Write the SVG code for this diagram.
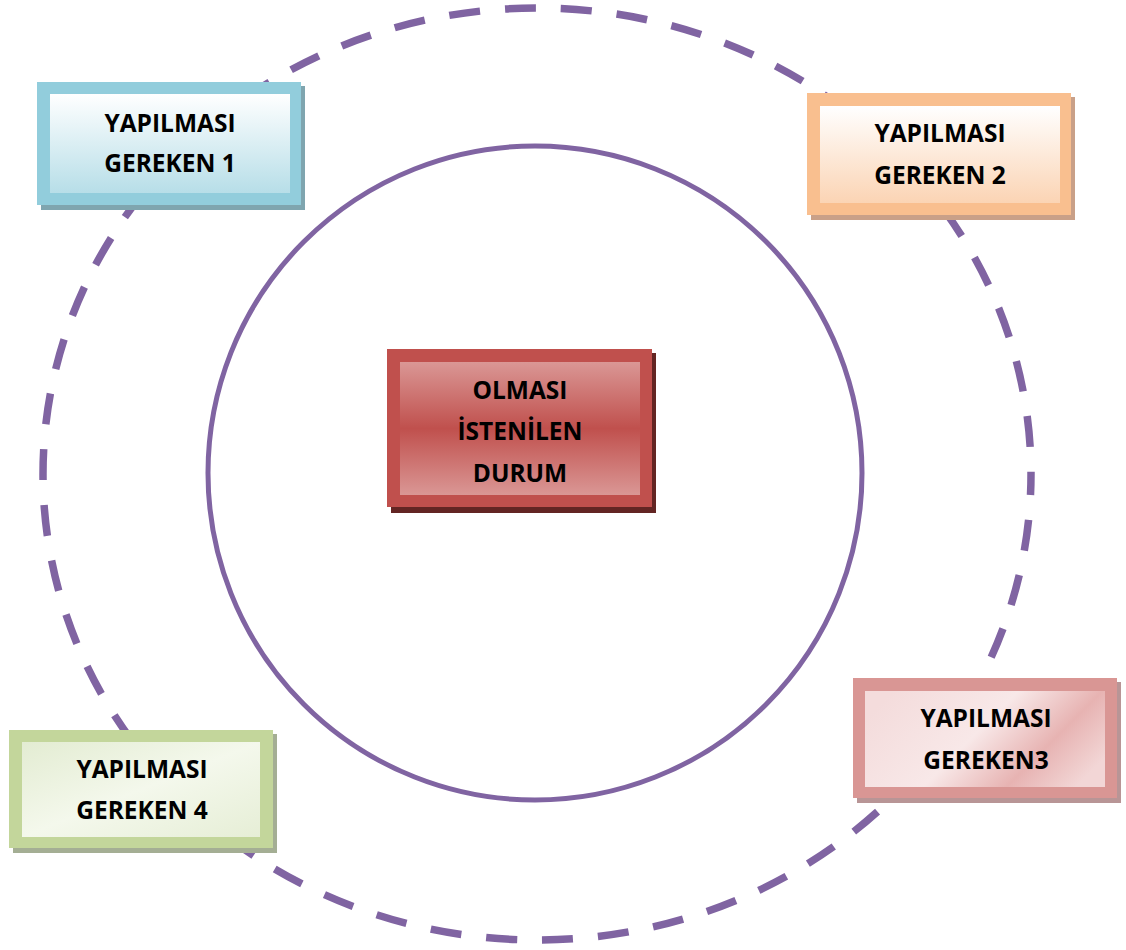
<svg xmlns="http://www.w3.org/2000/svg" width="1126" height="950" viewBox="0 0 1126 950">
<style>
.t{font-family:"Open Sans","Noto Sans","Liberation Sans",sans-serif;font-weight:bold;font-size:24.5px;fill:#000;text-anchor:middle}
.ring{fill:none;stroke:#8064A2}
</style>
<defs>
<linearGradient id="gBlue" x1="0" y1="0" x2="0" y2="1"><stop offset="0" stop-color="#FFFFFF"/><stop offset="1" stop-color="#B7DEE8"/></linearGradient>
<linearGradient id="gOrange" x1="0" y1="0" x2="0" y2="1"><stop offset="0" stop-color="#FFFFFF"/><stop offset="1" stop-color="#FBD4B4"/></linearGradient>
<linearGradient id="gRed" x1="0" y1="0" x2="0" y2="1"><stop offset="0" stop-color="#DA9795"/><stop offset="0.5" stop-color="#C0504D"/><stop offset="1" stop-color="#DA9795"/></linearGradient>
<linearGradient id="gPink" x1="0" y1="0.3" x2="1" y2="0.7"><stop offset="0" stop-color="#F4DCDC"/><stop offset="0.45" stop-color="#F8E8E8"/><stop offset="0.75" stop-color="#E7B3B2"/><stop offset="1" stop-color="#F2D6D6"/></linearGradient>
<linearGradient id="gGreen" x1="0" y1="0" x2="1" y2="1"><stop offset="0" stop-color="#E3ECD2"/><stop offset="0.5" stop-color="#F4F8EC"/><stop offset="1" stop-color="#E6EED6"/></linearGradient>
</defs>
<g id="connectors">
<ellipse class="ring" cx="537" cy="474" rx="494" ry="466" stroke-width="7.5" stroke-dasharray="31 25" stroke-dashoffset="10"/>
<circle class="ring" cx="535" cy="473" r="327" stroke-width="5"/>
</g>
<g id="node-center">
<rect x="391" y="353" width="265" height="160" fill="#632523"/>
<rect x="387" y="349" width="265" height="158" fill="#C0504D"/>
<rect x="400" y="362" width="240" height="133" fill="url(#gRed)"/>
<text class="t" x="520" y="399">OLMASI</text>
<text class="t" x="520" y="440">İSTENİLEN</text>
<text class="t" x="520" y="482">DURUM</text>
</g>
<g id="node-1">
<rect x="41" y="86" width="264" height="124" fill="#7FA5AF"/>
<rect x="37" y="82" width="264" height="123" fill="#92CDDC"/>
<rect x="50" y="94" width="240" height="99" fill="url(#gBlue)"/>
<text class="t" x="170" y="132">YAPILMASI</text>
<text class="t" x="170" y="172">GEREKEN 1</text>
</g>
<g id="node-2">
<rect x="811" y="97" width="264" height="123" fill="#C9A088"/>
<rect x="807" y="93" width="264" height="122" fill="#F9BF8F"/>
<rect x="820" y="106" width="240" height="97" fill="url(#gOrange)"/>
<text class="t" x="940" y="142">YAPILMASI</text>
<text class="t" x="940" y="184">GEREKEN 2</text>
</g>
<g id="node-3">
<rect x="857" y="682" width="264" height="121" fill="#B89596"/>
<rect x="853" y="678" width="264" height="120" fill="#D99694"/>
<rect x="865" y="691" width="240" height="96" fill="url(#gPink)"/>
<text class="t" x="986" y="727">YAPILMASI</text>
<text class="t" x="986" y="769">GEREKEN3</text>
</g>
<g id="node-4">
<rect x="13" y="734" width="264" height="119" fill="#A4AE94"/>
<rect x="9" y="730" width="264" height="118" fill="#C3D69B"/>
<rect x="22" y="742" width="238" height="95" fill="url(#gGreen)"/>
<text class="t" x="142" y="778">YAPILMASI</text>
<text class="t" x="142" y="819">GEREKEN 4</text>
</g>
</svg>
